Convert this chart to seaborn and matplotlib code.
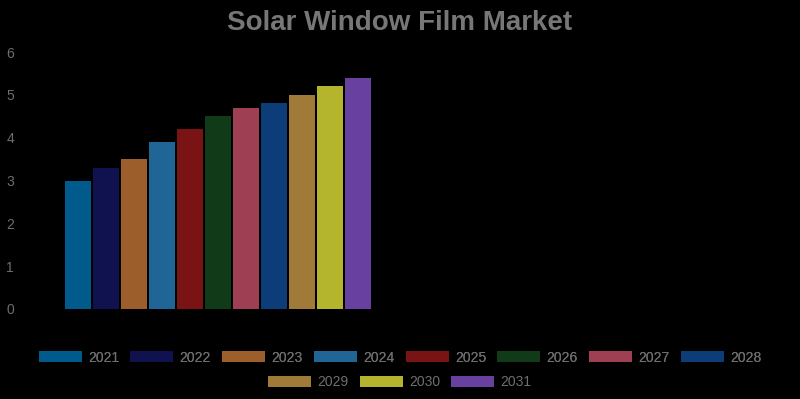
import pandas as pd
import matplotlib.pyplot as plt
import seaborn as sns
from matplotlib.patches import Patch

# Chart data
years = ['2021', '2022', '2023', '2024', '2025', '2026', '2027', '2028', '2029', '2030', '2031']
values = [3.0, 3.3, 3.5, 3.9, 4.2, 4.5, 4.7, 4.8, 5.0, 5.2, 5.4]
colors = ['#005a8c', '#10124f', '#9c5e2a', '#1f6595', '#7a1414', '#103a18',
          '#9e3f53', '#0d3d78', '#a07a38', '#b5b52d', '#6840a0']

BG = '#000000'
TEXT = '#6e6e6e'


def main():
    df = pd.DataFrame({'segment': ['Market'] * len(years), 'year': years, 'value': values})

    sns.set_style('dark')
    plt.rcParams['font.family'] = ['Liberation Sans', 'DejaVu Sans']

    fig = plt.figure(figsize=(8, 3.99), dpi=100, facecolor=BG)
    ax = fig.add_axes([28 / 800, 1 - 309 / 399, 760 / 800, (309 - 52) / 399])
    ax.set_facecolor(BG)

    sns.barplot(data=df, x='segment', y='value', hue='year', hue_order=years,
                palette=dict(zip(years, colors)), saturation=1, gap=0.1,
                width=0.81, linewidth=0, legend=False, ax=ax)

    # single category sits in the left half, like the original
    ax.set_xlim(-0.5, 1.5)
    ax.set_ylim(0, 6)
    ax.set_yticks(range(0, 7))
    ax.set_xticks([])
    ax.set_xlabel('')
    ax.set_ylabel('')
    ax.grid(False)
    for s in ax.spines.values():
        s.set_visible(False)
    ax.tick_params(axis='y', length=0, pad=10, labelsize=10, labelcolor=TEXT)

    fig.text(0.5, 1 - 23 / 399, 'Solar Window Film Market', ha='center', va='center',
             fontsize=20, fontweight='bold', color='#777777')

    handles = [Patch(facecolor=c, edgecolor='none', label=y) for y, c in zip(years, colors)]
    leg_kw = dict(frameon=False, fontsize=10, labelcolor=TEXT, handlelength=3.1,
                  handleheight=0.85, handletextpad=0.45, columnspacing=0.8,
                  borderaxespad=0, borderpad=0)
    leg1 = fig.legend(handles=handles[:8], ncol=8, loc='center',
                      bbox_to_anchor=(0.5, 1 - 357.5 / 399), **leg_kw)
    fig.add_artist(leg1)
    fig.legend(handles=handles[8:], ncol=3, loc='center',
               bbox_to_anchor=(0.5, 1 - 382 / 399), **leg_kw)

    plt.savefig('out.png', dpi=100, facecolor=BG)
    plt.close()


if __name__ == "__main__":
    main()
